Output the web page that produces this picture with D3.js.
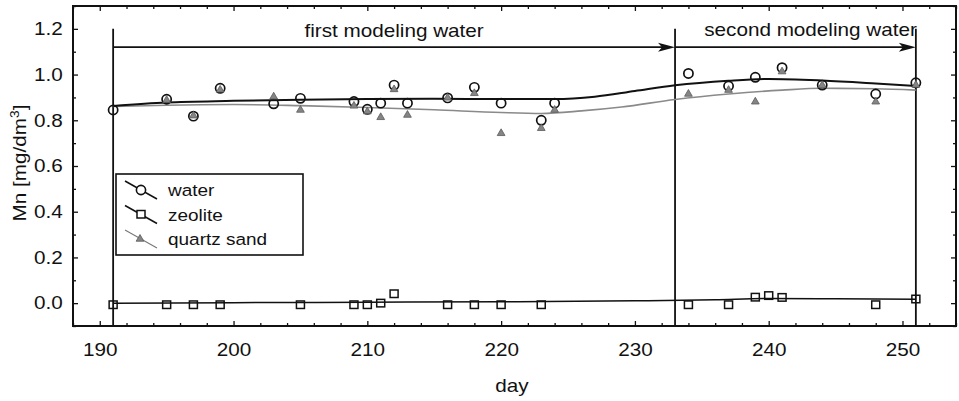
<!DOCTYPE html>
<html>
<head>
<meta charset="utf-8">
<script src="https://cdn.jsdelivr.net/npm/d3@7"></script>
<style>
body { margin: 0; background: #fff; }
text { font-family: "Liberation Sans", Arial, sans-serif; fill: #111; }
</style>
</head>
<body>
<div id="chart"></div>
<script>
var w = 959;
var h = 401;
var plotLeft = 73, plotRight = 956, plotTop = 6, plotBottom = 326;
var stretch = "scale(1.15,1)"; // the original lettering is a bit wide

// measured points
var waterDays = [191, 195, 197, 199, 203, 205, 209, 210, 211, 212, 213, 216, 218, 220, 223, 224, 234, 237, 239, 241, 244, 248, 251];
var waterMn = [0.845, 0.892, 0.818, 0.940, 0.872, 0.896, 0.882, 0.848, 0.875, 0.954, 0.875, 0.898, 0.944, 0.875, 0.800, 0.875, 1.005, 0.950, 0.988, 1.030, 0.954, 0.915, 0.964];

var quartzDays = [195, 197, 199, 203, 205, 209, 210, 211, 212, 213, 216, 218, 220, 223, 224, 234, 237, 239, 241, 244, 248, 251];
var quartzMn = [0.888, 0.820, 0.933, 0.903, 0.845, 0.863, 0.838, 0.813, 0.935, 0.823, 0.898, 0.918, 0.743, 0.765, 0.845, 0.915, 0.932, 0.881, 1.013, 0.953, 0.881, 0.954];

var zeoliteDays = [191, 195, 197, 199, 205, 209, 210, 211, 212, 216, 218, 220, 223, 234, 237, 239, 240, 241, 248, 251];
var zeoliteMn = [-0.008, -0.008, -0.008, -0.008, -0.008, -0.008, -0.008, -0.001, 0.040, -0.008, -0.008, -0.008, -0.008, -0.008, -0.008, 0.025, 0.032, 0.024, -0.008, 0.017];

// smoothed fits
var waterFitDays = [191, 195, 200, 205, 210, 215, 220, 224, 227, 230, 233, 237, 240, 244, 248, 251];
var waterFit = [0.863, 0.878, 0.885, 0.890, 0.893, 0.894, 0.893, 0.893, 0.903, 0.928, 0.953, 0.973, 0.981, 0.974, 0.961, 0.950];

var quartzFitDays = [191, 195, 200, 205, 210, 215, 220, 223, 226, 229, 233, 237, 241, 244, 248, 251];
var quartzFit = [0.860, 0.866, 0.869, 0.864, 0.856, 0.846, 0.834, 0.830, 0.841, 0.858, 0.891, 0.915, 0.932, 0.940, 0.938, 0.932];

var zeoliteFitDays = [191, 200, 210, 220, 230, 236, 240, 245, 251];
var zeoliteFit = [0.000, 0.002, 0.004, 0.006, 0.010, 0.015, 0.020, 0.019, 0.017];

var yTicks = [0, 0.2, 0.4, 0.6, 0.8, 1.0, 1.2];
var yMinor = [-0.1, 0.1, 0.3, 0.5, 0.7, 0.9, 1.1, 1.3];
var xTicks = [190, 200, 210, 220, 230, 240, 250];
var xMinor = [188, 192, 194, 196, 198, 202, 204, 206, 208, 212, 214, 216, 218, 222, 224, 226, 228, 232, 234, 236, 238, 242, 244, 246, 248, 252, 254];

var phaseDays = [191, 233, 251];
var phaseNames = ["first modeling water", "second modeling water"];
var arrowLevel = 1.12;

var legendNames = ["water", "zeolite", "quartz sand"];

var canvas = d3.select("#chart")
    .append("svg")
    .attr("width", w)
    .attr("height", h)
    .style("background-color", "white");

var x = d3.scaleLinear().domain([188, 254]).range([plotLeft, plotRight]);
var y = d3.scaleLinear().domain([-0.1, 1.3]).range([plotBottom, plotTop]);

function zip(days, vals) {
    return days.map(function (d, i) { return { day: d, v: vals[i] }; });
}

// axes, ticks pointing inward on all four sides
function styleAxis(g) {
    g.select(".domain").remove();
    g.selectAll("line").attr("stroke", "#111").attr("stroke-width", 1.3);
    g.selectAll("text").attr("font-size", "18px").attr("fill", "#111")
        .attr("font-family", "Liberation Sans, Arial, sans-serif")
        .attr("transform", stretch);
}

canvas.append("g").attr("transform", "translate(" + plotLeft + ",0)")
    .call(d3.axisLeft(y).tickValues(yTicks).tickSize(-5).tickPadding(9).tickFormat(d3.format(".1f")))
    .call(styleAxis);
canvas.append("g").attr("transform", "translate(" + plotLeft + ",0)")
    .call(d3.axisLeft(y).tickValues(yMinor).tickSize(-3).tickFormat(""))
    .call(styleAxis);
canvas.append("g").attr("transform", "translate(" + plotRight + ",0)")
    .call(d3.axisRight(y).tickValues(yTicks).tickSize(-5).tickFormat(""))
    .call(styleAxis);
canvas.append("g").attr("transform", "translate(" + plotRight + ",0)")
    .call(d3.axisRight(y).tickValues(yMinor).tickSize(-3).tickFormat(""))
    .call(styleAxis);

canvas.append("g").attr("transform", "translate(0," + plotBottom + ")")
    .call(d3.axisBottom(x).tickValues(xTicks).tickSize(-5).tickPadding(17).tickFormat(d3.format("d")))
    .call(styleAxis);
canvas.append("g").attr("transform", "translate(0," + plotBottom + ")")
    .call(d3.axisBottom(x).tickValues(xMinor).tickSize(-3).tickFormat(""))
    .call(styleAxis);
canvas.append("g").attr("transform", "translate(0," + plotTop + ")")
    .call(d3.axisTop(x).tickValues(xTicks).tickSize(-5).tickFormat(""))
    .call(styleAxis);
canvas.append("g").attr("transform", "translate(0," + plotTop + ")")
    .call(d3.axisTop(x).tickValues(xMinor).tickSize(-3).tickFormat(""))
    .call(styleAxis);

canvas.append("rect")
    .attr("x", plotLeft)
    .attr("y", plotTop)
    .attr("width", plotRight - plotLeft)
    .attr("height", plotBottom - plotTop)
    .attr("fill", "none")
    .attr("stroke", "#111")
    .attr("stroke-width", 2);

// phase markers
canvas.selectAll(".phase")
    .data(phaseDays)
    .join("line")
    .attr("class", "phase")
    .attr("x1", function (d) { return x(d); })
    .attr("x2", function (d) { return x(d); })
    .attr("y1", y(1.2))
    .attr("y2", plotBottom)
    .attr("stroke", "#111")
    .attr("stroke-width", 1.8);

var spans = d3.pairs(phaseDays);
canvas.selectAll(".span")
    .data(spans)
    .join("line")
    .attr("class", "span")
    .attr("x1", function (d) { return x(d[0]); })
    .attr("x2", function (d) { return x(d[1]) - 8; })
    .attr("y1", y(arrowLevel))
    .attr("y2", y(arrowLevel))
    .attr("stroke", "#111")
    .attr("stroke-width", 1.6);

canvas.selectAll(".head")
    .data(spans)
    .join("path")
    .attr("class", "head")
    .attr("d", function (d) {
        var tx = x(d[1]), ty = y(arrowLevel);
        return "M" + tx + "," + ty + "L" + (tx - 17) + "," + (ty - 4.5) + "L" + (tx - 13) + "," + ty +
            "L" + (tx - 17) + "," + (ty + 4.5) + "Z";
    })
    .attr("fill", "#111");

canvas.append("text")
    .attr("transform", "translate(" + x((phaseDays[0] + phaseDays[1]) / 2) + ",37) " + stretch)
    .attr("text-anchor", "middle")
    .attr("font-size", "18px")
    .text(phaseNames[0]);

canvas.append("text")
    .attr("transform", "translate(" + (x(phaseDays[2]) + 1) + ",36) " + stretch)
    .attr("text-anchor", "end")
    .attr("font-size", "18px")
    .text(phaseNames[1]);

// fitted curves
var line = d3.line()
    .x(function (d) { return x(d.day); })
    .y(function (d) { return y(d.v); })
    .curve(d3.curveMonotoneX);

canvas.append("path").datum(zip(zeoliteFitDays, zeoliteFit))
    .attr("d", line).attr("fill", "none").attr("stroke", "#111").attr("stroke-width", 1.5);
canvas.append("path").datum(zip(quartzFitDays, quartzFit))
    .attr("d", line).attr("fill", "none").attr("stroke", "#8a8a8a").attr("stroke-width", 1.6);
canvas.append("path").datum(zip(waterFitDays, waterFit))
    .attr("d", line).attr("fill", "none").attr("stroke", "#111").attr("stroke-width", 2);

// points
canvas.selectAll(".water")
    .data(zip(waterDays, waterMn))
    .join("circle")
    .attr("class", "water")
    .attr("cx", function (d) { return x(d.day); })
    .attr("cy", function (d) { return y(d.v); })
    .attr("r", 4.6)
    .attr("fill", "none")
    .attr("stroke", "#111")
    .attr("stroke-width", 1.7);

canvas.selectAll(".zeolite")
    .data(zip(zeoliteDays, zeoliteMn))
    .join("rect")
    .attr("class", "zeolite")
    .attr("x", function (d) { return x(d.day) - 4; })
    .attr("y", function (d) { return y(d.v) - 4; })
    .attr("width", 8)
    .attr("height", 7.5)
    .attr("fill", "none")
    .attr("stroke", "#111")
    .attr("stroke-width", 1.5);

var tri = d3.symbol().type(d3.symbolTriangle).size(26);
canvas.selectAll(".quartz")
    .data(zip(quartzDays, quartzMn))
    .join("path")
    .attr("class", "quartz")
    .attr("d", tri)
    .attr("transform", function (d) { return "translate(" + x(d.day) + "," + y(d.v) + ")"; })
    .attr("fill", "#858585")
    .attr("stroke", "#5a5a5a")
    .attr("stroke-width", 0.8);

// legend
var legend = canvas.append("g").attr("transform", "translate(116,174)");
legend.append("rect")
    .attr("width", 187).attr("height", 81)
    .attr("fill", "white").attr("stroke", "#111").attr("stroke-width", 1.6);

var items = legend.selectAll(".item")
    .data(legendNames)
    .join("g")
    .attr("class", "item")
    .attr("transform", function (d, i) { return "translate(0," + (16 + i * 24.5) + ")"; });

items.append("line")
    .attr("x1", 9).attr("y1", -9).attr("x2", 41).attr("y2", 9)
    .attr("stroke", function (d, i) { return i == 2 ? "#777" : "#111"; })
    .attr("stroke-width", function (d, i) { return i == 2 ? 1.1 : 1.5; });

items.each(function (d, i) {
    var g = d3.select(this);
    if (i == 0) {
        g.append("circle").attr("cx", 25).attr("cy", 0).attr("r", 4.6)
            .attr("fill", "white").attr("stroke", "#111").attr("stroke-width", 1.6);
    } else if (i == 1) {
        g.append("rect").attr("x", 21).attr("y", -4).attr("width", 8).attr("height", 7.5)
            .attr("fill", "white").attr("stroke", "#111").attr("stroke-width", 1.5);
    } else {
        g.append("path").attr("d", tri).attr("transform", "translate(24,0)")
            .attr("fill", "#858585").attr("stroke", "#5a5a5a").attr("stroke-width", 0.8);
    }
});

items.append("text")
    .attr("transform", "translate(52,6) " + stretch)
    .attr("font-size", "16.5px")
    .text(function (d) { return d; });

// axis titles
canvas.append("text")
    .attr("transform", "translate(512,392) " + stretch)
    .attr("text-anchor", "middle")
    .attr("font-size", "18px")
    .text("day");

var yLab = canvas.append("text")
    .attr("transform", "translate(26,163) rotate(-90) " + stretch)
    .attr("text-anchor", "middle")
    .attr("font-size", "18px");
yLab.append("tspan").text("Mn [mg/dm");
yLab.append("tspan").attr("font-size", "12px").attr("dy", "-7").text("3");
yLab.append("tspan").attr("dy", "7").text("]");
</script>
</body>
</html>
